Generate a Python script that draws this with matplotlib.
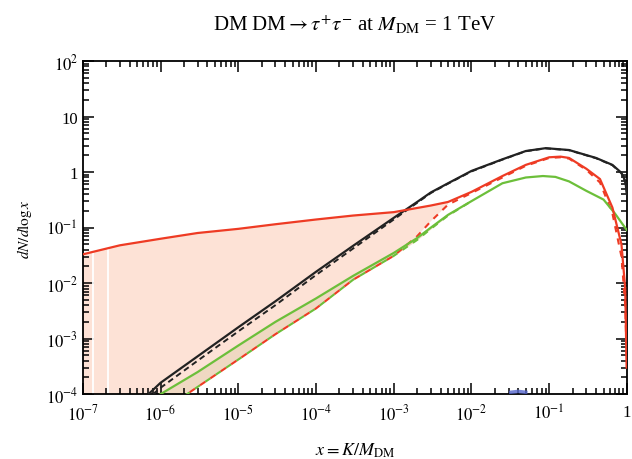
import matplotlib
matplotlib.use("Agg")
import matplotlib.pyplot as plt
import numpy as np
from matplotlib.ticker import LogLocator, NullFormatter, FixedLocator, FixedFormatter

plt.rcParams['font.family'] = ['Liberation Serif', 'DejaVu Serif']
plt.rcParams['mathtext.fontset'] = 'stix'

# red solid
x_red = [1e-7, 3e-7, 1e-6, 3e-6, 1e-5, 3e-5, 1e-4, 3e-4, 1e-3, 3e-3, 5e-3, 1e-2,
         2.5e-2, 5e-2, 0.1, 0.14, 0.18, 0.3, 0.45, 0.65, 0.85, 0.95, 0.99]
y_red = [0.033, 0.048, 0.063, 0.08, 0.095, 0.115, 0.14, 0.165, 0.19, 0.25, 0.29, 0.44,
         0.85, 1.35, 1.85, 1.9, 1.8, 1.15, 0.75, 0.23, 0.05, 0.008, 3e-4]

# red dashed
x_rdash = [1.5e-6, 3e-6, 1e-5, 3e-5, 1e-4, 3e-4, 1e-3, 2e-3, 3e-3, 5e-3, 1e-2,
           2.5e-2, 5e-2, 0.1, 0.14, 0.18, 0.3, 0.45, 0.65, 0.85, 0.95, 0.99]
y_rdash = [7e-5, 1.35e-4, 4.2e-4, 1.2e-3, 3.5e-3, 0.0115, 0.031, 0.07, 0.13, 0.26, 0.42,
           0.8, 1.3, 1.8, 1.85, 1.75, 1.1, 0.65, 0.18, 0.03, 0.004, 5e-4]

# green solid
x_green = [1e-6, 3e-6, 1e-5, 3e-5, 1e-4, 3e-4, 1e-3, 2e-3, 3e-3, 5e-3, 1e-2,
           2.5e-2, 5e-2, 0.083, 0.12, 0.18, 0.3, 0.5, 0.7, 0.9, 1.0]
y_green = [1e-4, 2.5e-4, 7.5e-4, 2e-3, 5.3e-3, 0.0135, 0.035, 0.065, 0.1, 0.17, 0.3,
           0.63, 0.8, 0.85, 0.82, 0.68, 0.46, 0.32, 0.18, 0.11, 0.09]

# green dashed
x_gdash = [1.5e-6, 3e-6, 1e-5, 3e-5, 1e-4, 3e-4, 1e-3, 2e-3, 3e-3, 5e-3, 1e-2]
y_gdash = [7e-5, 1.35e-4, 4.2e-4, 1.2e-3, 3.5e-3, 0.0115, 0.031, 0.06, 0.095, 0.165, 0.3]

# black solid
x_black = [7e-7, 1e-6, 3e-6, 1e-5, 3e-5, 1e-4, 3e-4, 1e-3, 2e-3, 3e-3, 5e-3, 1e-2,
           2.5e-2, 5e-2, 0.09, 0.18, 0.4, 0.65, 0.85, 0.95, 1.0]
y_black = [1e-4, 1.6e-4, 4.8e-4, 1.6e-3, 4.7e-3, 0.016, 0.047, 0.15, 0.29, 0.43, 0.63,
           1.05, 1.7, 2.4, 2.7, 2.5, 1.8, 1.35, 0.97, 0.7, 0.4]

# black dashed
x_bdash = [8e-7, 1e-6, 3e-6, 1e-5, 3e-5, 1e-4, 3e-4, 1e-3, 2e-3, 3e-3, 5e-3, 1e-2,
           2.5e-2, 5e-2, 0.09, 0.18, 0.4, 0.65, 0.85, 0.95, 1.0]
y_bdash = [1e-4, 1.3e-4, 4e-4, 1.35e-3, 4e-3, 0.014, 0.042, 0.14, 0.28, 0.42, 0.62,
           1.03, 1.68, 2.38, 2.68, 2.48, 1.78, 1.33, 0.95, 0.68, 0.4]

# small blue bit near the bottom
x_blue = [0.032, 0.04, 0.05]
y_blue = [1.08e-4, 1.12e-4, 1.08e-4]

# white gaps in the band
x_gaps = [1.35e-7, 2.1e-7]

xmin, xmax = 1e-7, 1.0
ymin, ymax = 1e-4, 1e2

RED = '#ee3b24'
GREEN = '#6cbf3a'
BLACK = '#222222'

fig = plt.figure(figsize=(6.32, 4.6), dpi=100)
ax = fig.add_axes([0.131, 0.141, 0.861, 0.724])

# band between red solid and red dashed
n_top = x_red.index(5e-3) + 1
n_bot = x_rdash.index(5e-3) + 1
poly_x = list(x_red[:n_top]) + list(x_rdash[:n_bot][::-1]) + [xmin]
poly_y = list(y_red[:n_top]) + list(y_rdash[:n_bot][::-1]) + [ymin * 0.01]
ax.fill(poly_x, poly_y, color='#fde2d6', lw=0, zorder=1)

# darker strip between green solid and green dashed
xg = np.array(x_green)
gd = np.interp(np.log10(xg), np.log10(x_gdash), np.log10(y_gdash))
mask = xg <= 1e-2
ax.fill_between(xg[mask], 10 ** gd[mask], np.array(y_green)[mask],
                color='#efd8c2', lw=0, zorder=1.5)

for xv in x_gaps:
    yr = 10 ** np.interp(np.log10(xv), np.log10(x_red), np.log10(y_red))
    ax.vlines(xv, ymin, yr, color='white', lw=1.3, zorder=2)

ax.plot(x_bdash, y_bdash, color=BLACK, lw=1.4, dashes=(3, 2), zorder=3)
ax.plot(x_black, y_black, color=BLACK, lw=1.6, zorder=4)
ax.plot(x_gdash, y_gdash, color=GREEN, lw=1.5, linestyle=(0, (3, 3)), zorder=3)
ax.plot(x_rdash, y_rdash, color=RED, lw=1.5, linestyle=(3, (3, 3)), zorder=3.2)
ax.plot(x_green, y_green, color=GREEN, lw=1.6, zorder=4)
ax.plot(x_red, y_red, color=RED, lw=1.6, zorder=4)
ax.plot(x_blue, y_blue, color='#5566cc', lw=2.5, alpha=0.8, zorder=3)

ax.set_xscale('log')
ax.set_yscale('log')
ax.set_xlim(xmin, xmax)
ax.set_ylim(ymin, ymax)

xt = [1e-7, 1e-6, 1e-5, 1e-4, 1e-3, 1e-2, 1e-1, 1]
xl = [r'$10^{-7}$', r'$10^{-6}$', r'$10^{-5}$', r'$10^{-4}$', r'$10^{-3}$',
      r'$10^{-2}$', r'$10^{-1}$', '1']
yt = [1e-4, 1e-3, 1e-2, 1e-1, 1, 10, 100]
yl = [r'$10^{-4}$', r'$10^{-3}$', r'$10^{-2}$', r'$10^{-1}$', '1', '10', r'$10^{2}$']
ax.xaxis.set_major_locator(FixedLocator(xt))
ax.xaxis.set_major_formatter(FixedFormatter(xl))
ax.yaxis.set_major_locator(FixedLocator(yt))
ax.yaxis.set_major_formatter(FixedFormatter(yl))
ax.xaxis.set_minor_locator(LogLocator(base=10, subs=np.arange(2, 10), numticks=20))
ax.yaxis.set_minor_locator(LogLocator(base=10, subs=np.arange(2, 10), numticks=20))
ax.xaxis.set_minor_formatter(NullFormatter())
ax.yaxis.set_minor_formatter(NullFormatter())

ax.tick_params(which='both', direction='in', top=True, right=True, labelsize=12,
               width=1.1, color='black')
ax.tick_params(which='major', length=8)
ax.tick_params(which='minor', length=4.5)
ax.tick_params(axis='x', pad=7)
for s in ax.spines.values():
    s.set_linewidth(1.3)

ax.set_xlabel(r'$x = K/M_{\rm DM}$', fontsize=13, labelpad=12)
ax.set_ylabel(r'$dN/d\log x$', fontsize=11, labelpad=8)
ax.set_title(r'DM DM$\rightarrow\tau^{+}\tau^{-}$ at $M_{\rm DM}$ = 1 TeV',
             fontsize=15, pad=22)

fig.savefig('out.png', dpi=100)
